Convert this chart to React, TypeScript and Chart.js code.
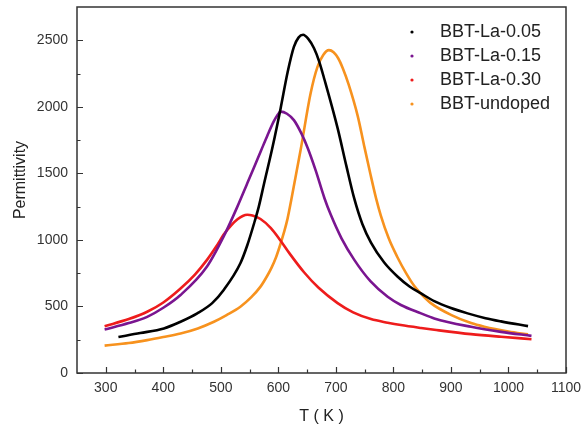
import React, { useEffect, useRef } from 'react';
import { Chart, registerables } from 'chart.js';

Chart.register(...registerables);

// ---- data (T in K, permittivity) ----
const tLa005 = [322, 360, 401, 430, 459, 485, 505, 534, 546, 558, 566, 575, 590, 604, 616, 627, 635, 643, 652, 662, 671, 680, 703, 718, 732, 746, 761, 784, 807, 828, 848, 871, 900, 929, 960, 987, 1034];
const pLa005 = [271, 300, 335, 385, 448, 525, 624, 825, 960, 1127, 1250, 1420, 1700, 1990, 2258, 2450, 2520, 2541, 2510, 2440, 2340, 2207, 1840, 1560, 1310, 1120, 980, 830, 725, 650, 598, 540, 488, 448, 412, 388, 352];

const tLa015 = [298, 340, 372, 400, 430, 476, 505, 529, 545, 558, 570, 581, 592, 598, 604, 615, 627, 640, 651, 665, 680, 691, 710, 732, 760, 790, 813, 848, 871, 935, 987, 1040];
const pLa015 = [327, 375, 422, 490, 586, 800, 1026, 1252, 1415, 1548, 1672, 1785, 1890, 1935, 1964, 1948, 1900, 1800, 1690, 1520, 1315, 1190, 1010, 850, 690, 573, 511, 448, 410, 347, 309, 279];

const tLa030 = [298, 340, 372, 400, 430, 455, 476, 492, 505, 518, 529, 538, 546, 555, 569, 587, 603, 620, 645, 670, 703, 730, 761, 790, 813, 848, 871, 935, 987, 1040];
const pLa030 = [352, 405, 460, 530, 635, 740, 850, 950, 1040, 1110, 1155, 1180, 1189, 1183, 1157, 1089, 1000, 895, 755, 640, 525, 455, 405, 378, 360, 338, 325, 292, 272, 254];

const tUndoped = [298, 340, 372, 400, 430, 460, 488, 510, 534, 553, 569, 580, 588, 596, 603, 610, 616, 622, 639, 656, 668, 678, 688, 696, 704, 712, 722, 738, 749, 760, 770, 778, 792, 807, 822, 836, 848, 865, 900, 935, 958, 1000, 1034];
const pUndoped = [206, 225, 247, 270, 297, 335, 385, 435, 498, 570, 649, 725, 790, 870, 960, 1060, 1160, 1290, 1683, 2100, 2300, 2390, 2426, 2410, 2365, 2290, 2170, 1930, 1710, 1495, 1310, 1185, 1010, 870, 750, 655, 595, 525, 437, 375, 348, 312, 290];

const seriesLabels = ['BBT-La-0.05', 'BBT-La-0.15', 'BBT-La-0.30', 'BBT-undoped'];
const seriesColors = ['#000000', '#7a1590', '#ee1c1c', '#f7921e'];
const seriesT = [tLa005, tLa015, tLa030, tUndoped];
const seriesP = [pLa005, pLa015, pLa030, pUndoped];

const xMin = 250, xMax = 1100;
const yMin = 0, yMax = 2750;
const xTickValues = [300, 400, 500, 600, 700, 800, 900, 1000, 1100];
const xMinorValues = [350, 450, 550, 650, 750, 850, 950, 1050];
const yTickValues = [0, 500, 1000, 1500, 2000, 2500];
const yMinorValues = [250, 750, 1250, 1750, 2250];
const xTitle = 'T ( K )';
const yTitle = 'Permittivity';

const FONT = "'Liberation Sans', Arial, Helvetica, sans-serif";
const AXIS = '#333333';

const framePlugin = {
  id: 'framePlugin',
  afterDatasetsDraw(chart: any) {
    const { ctx, chartArea: a, scales } = chart;
    const x = scales.x, y = scales.y;
    ctx.save();
    ctx.strokeStyle = AXIS;
    ctx.lineWidth = 1.5;
    ctx.strokeRect(a.left, a.top, a.right - a.left, a.bottom - a.top);
    ctx.lineWidth = 1.2;
    ctx.beginPath();
    const xt = (v: number, len: number) => {
      const px = Math.round(x.getPixelForValue(v)) + 0.5;
      ctx.moveTo(px, a.bottom);
      ctx.lineTo(px, a.bottom - len);
    };
    const yt = (v: number, len: number) => {
      const py = Math.round(y.getPixelForValue(v)) + 0.5;
      ctx.moveTo(a.left, py);
      ctx.lineTo(a.left + len, py);
    };
    xTickValues.forEach((v) => xt(v, 6));
    xMinorValues.forEach((v) => xt(v, 3.5));
    yTickValues.forEach((v) => yt(v, 6));
    yMinorValues.forEach((v) => yt(v, 3.5));
    ctx.stroke();

    // axis titles
    ctx.fillStyle = '#222';
    ctx.font = `16px ${FONT}`;
    ctx.textAlign = 'center';
    ctx.textBaseline = 'middle';
    ctx.fillText(xTitle, (a.left + a.right) / 2, 417);
    ctx.save();
    ctx.translate(21, 180);
    ctx.rotate(-Math.PI / 2);
    ctx.fillText(yTitle, 0, 0);
    ctx.restore();

    // legend inside plot
    ctx.font = `18px ${FONT}`;
    ctx.textAlign = 'left';
    chart.data.datasets.forEach((ds: any, i: number) => {
      const cy = a.top + 25 + i * 24;
      ctx.fillStyle = ds.borderColor;
      ctx.beginPath();
      ctx.arc(a.left + 335, cy, 1.6, 0, Math.PI * 2);
      ctx.fill();
      ctx.fillStyle = '#222';
      ctx.fillText(ds.label, a.left + 363, cy);
    });
    ctx.restore();
  },
};

export default function App() {
  const ref = useRef<HTMLCanvasElement | null>(null);
  useEffect(() => {
    if (!ref.current) return;
    const chart = new Chart(ref.current, {
      type: 'scatter',
      data: {
        datasets: seriesLabels.map((label, i) => ({
          label,
          data: seriesT[i].map((t, j) => ({ x: t, y: seriesP[i][j] })),
          borderColor: seriesColors[i],
          backgroundColor: seriesColors[i],
          showLine: true,
          pointRadius: 0,
          borderWidth: 2.6,
          cubicInterpolationMode: 'monotone' as const,
        })),
      },
      options: {
        responsive: false,
        animation: false,
        layout: { padding: { left: 0, top: 7, right: 16, bottom: 0 } },
        plugins: { legend: { display: false }, tooltip: { enabled: false } },
        scales: {
          x: {
            type: 'linear',
            min: xMin,
            max: xMax,
            grid: { display: false, drawTicks: false },
            border: { display: false },
            afterFit: (s: any) => { s.height = 54; s.paddingLeft = 0; s.paddingRight = 0; },
            afterBuildTicks: (s: any) => { s.ticks = xTickValues.map((v) => ({ value: v })); },
            ticks: { color: AXIS, padding: 7, font: { family: FONT, size: 14 }, callback: (v: any) => String(v) },
          },
          y: {
            type: 'linear',
            min: yMin,
            max: yMax,
            grid: { display: false, drawTicks: false },
            border: { display: false },
            afterFit: (s: any) => { s.width = 77; s.paddingTop = 0; s.paddingBottom = 0; },
            afterBuildTicks: (s: any) => { s.ticks = yTickValues.map((v) => ({ value: v })); },
            ticks: { color: AXIS, padding: 9, font: { family: FONT, size: 14 }, callback: (v: any) => String(v) },
          },
        },
      },
      plugins: [framePlugin],
    });
    return () => chart.destroy();
  }, []);
  return (
    <div style={{ position: 'fixed', left: 0, top: 0, width: 582, height: 427, background: '#fff' }}>
      <canvas ref={ref} width={582} height={427} style={{ display: 'block' }} />
    </div>
  );
}
